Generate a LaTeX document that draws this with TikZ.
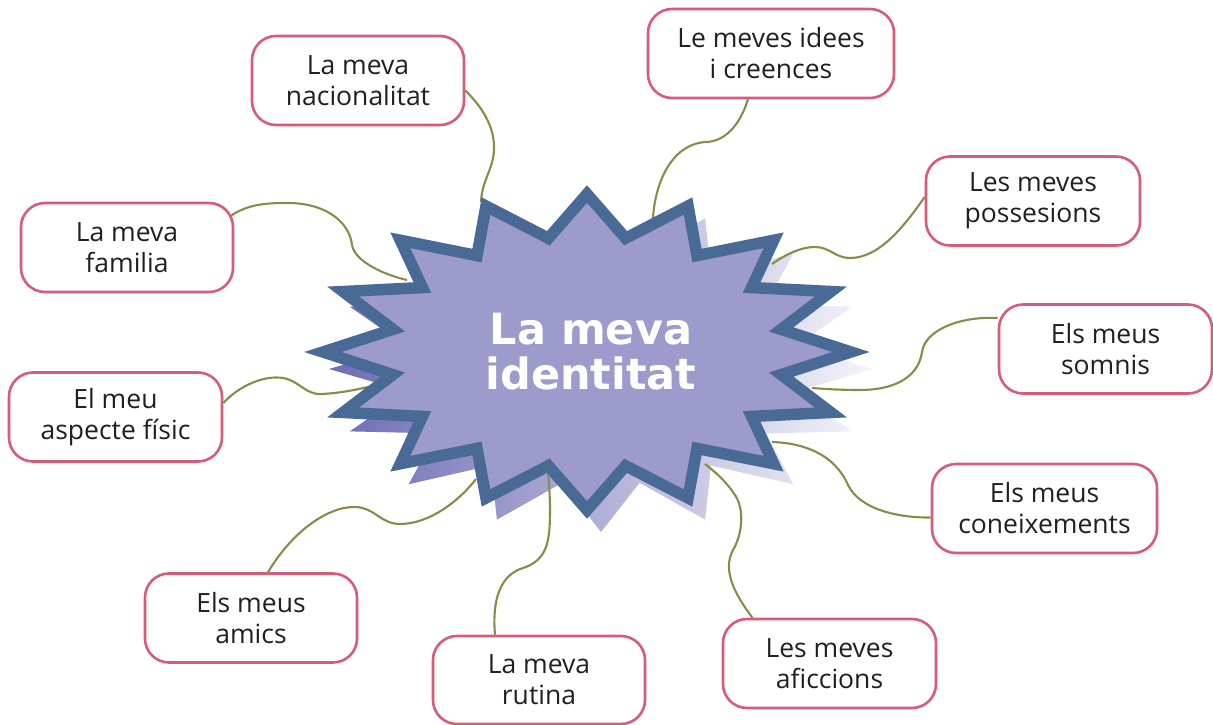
\documentclass[tikz,border=0pt]{standalone}
\usepackage{fontspec}
\setmainfont{Open Sans}
\newfontfamily\boxfont{Open Sans}
\newfontfamily\titlefont{DejaVu Sans}
\definecolor{starfill}{HTML}{9C9BCB}
\definecolor{starline}{HTML}{4A6A96}
\definecolor{boxred}{HTML}{D95B79}
\definecolor{olive}{HTML}{8C8A48}
\definecolor{textgray}{HTML}{231F20}
\definecolor{shadL}{HTML}{6E6CB4}
\definecolor{shadM}{HTML}{B6BCDA}
\definecolor{shadR}{HTML}{F4F5FA}
\tikzset{
  box/.style={draw=boxred, line width=2.6pt, fill=white, rounded corners=24pt,
    minimum height=89pt, align=center, text=textgray,
    font=\boxfont\fontsize{26.5pt}{31pt}\selectfont, inner sep=0pt},
  link/.style={draw=olive, line width=2.1pt},
  starstroke/.style={draw=starline, fill=starfill, line width=11.5pt, line join=miter, miter limit=12},
}
\begin{document}
\begin{tikzpicture}[x=1pt, y=-1pt]
\useasboundingbox (0,0) rectangle (1213,725);

% shadow of the star
\begin{scope}[shift={(601,369)}]
\shade[left color=shadL, middle color=shadM, right color=shadR]
  (90:272 and 163) \foreach \i in {0,...,15}{ -- ({101.25+\i*22.5}:198 and 116) -- ({112.5+\i*22.5}:272 and 163)} -- cycle;
\end{scope}

% boxes
\node[box, minimum width=212pt] (N) at (358,80.5) {La meva\\nacionalitat};
\node[box, minimum width=246pt] (I) at (771,53.5) {Le meves idees\\i creences};
\node[box, minimum width=212pt] (F) at (127,247.5) {La meva\\familia};
\node[box, minimum width=213pt] (A) at (115.5,417) {El meu\\aspecte físic};
\node[box, minimum width=214pt] (P) at (1033,201) {Les meves\\possesions};
\node[box, minimum width=213pt] (S) at (1105.5,349) {Els meus\\somnis};
\node[box, minimum width=225pt] (C) at (1044.5,508.5) {Els meus\\coneixements};
\node[box, minimum width=213pt] (Af) at (829.5,663.5) {Les meves\\aficcions};
\node[box, minimum width=212pt] (Am) at (251,618) {Els meus\\amics};
\node[box, minimum width=212pt, minimum height=88pt] (R) at (539,680) {La meva\\rutina};

% ends of connectors on the star
\coordinate (eN) at (481,202);
\coordinate (eI) at (653,218);
\coordinate (eF) at (407,280);
\coordinate (eA) at (368,387);
\coordinate (eP) at (772,264);
\coordinate (eS) at (812,388);
\coordinate (eC) at (772,442);
\coordinate (eAf) at (705,464);
\coordinate (eAm) at (476,479);
\coordinate (eR) at (548,470);

% connectors
\draw[link] ([yshift=-10pt]N.east) .. controls (480,105) and (495,125) .. (494,150)
  .. controls (493,170) and (482,180) .. (eN);
\draw[link] ([xshift=-23pt]I.south) .. controls (740,125) and (725,142) .. (705,142)
  .. controls (670,145) and (655,185) .. (eI);
\draw[link] ([xshift=-3pt,yshift=32pt]F.east) .. controls (250,203) and (270,203) .. (290,203)
  .. controls (330,204) and (350,225) .. (352,245)
  .. controls (355,262) and (385,275) .. (eF);
\draw[link] ([yshift=14pt]A.east) .. controls (240,385) and (265,375) .. (283,378)
  .. controls (300,381) and (305,395) .. (322,394)
  .. controls (340,393) and (355,390) .. (eA);
\draw[link] ([yshift=4pt]P.west) .. controls (905,225) and (880,258) .. (850,258)
  .. controls (835,258) and (830,247) .. (815,247)
  .. controls (800,247) and (785,255) .. (eP);
\draw[link] ([yshift=31pt]S.west) .. controls (960,316) and (925,330) .. (922,352)
  .. controls (918,380) and (890,390) .. (860,390)
  .. controls (840,390) and (825,389) .. (eS);
\draw[link] ([yshift=-9pt]C.west) .. controls (900,518) and (860,510) .. (848,485)
  .. controls (835,455) and (805,443) .. (eC);
\draw[link] ([xshift=-77pt]Af.north) .. controls (735,595) and (722,570) .. (733,550)
  .. controls (742,535) and (745,510) .. (735,495)
  .. controls (725,480) and (715,472) .. (eAf);
\draw[link] ([xshift=17pt]Am.north) .. controls (290,535) and (325,507) .. (354,507)
  .. controls (375,507) and (380,524) .. (400,524)
  .. controls (430,524) and (460,500) .. (eAm);
\draw[link] ([xshift=-44pt]R.north) .. controls (492,600) and (500,575) .. (523,568)
  .. controls (548,560) and (550,540) .. (550,510)
  .. controls (550,495) and (549,485) .. (eR);

% the star
\begin{scope}[shift={(587,352)}]
\path[starstroke]
  (90:264 and 158) \foreach \i in {0,...,15}{ -- ({101.25+\i*22.5}:198 and 116) -- ({112.5+\i*22.5}:264 and 158)} -- cycle;
\end{scope}
\node[text=white, align=center, font=\titlefont\bfseries\fontsize{43pt}{45pt}\selectfont] (T) at (591,352) {La meva\\identitat};
\end{tikzpicture}
\end{document}
